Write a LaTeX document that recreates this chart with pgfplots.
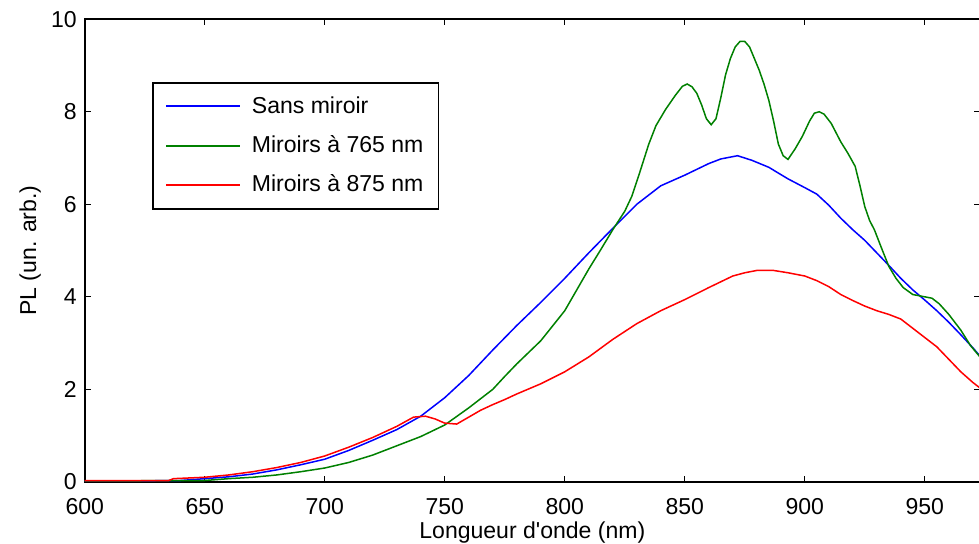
\documentclass[border=0pt]{standalone}
\usepackage{pgfplots}
\pgfplotsset{compat=1.18}
\usepackage{fontspec}
\setmainfont{Liberation Sans}
\definecolor{mblue}{rgb}{0,0,1}
\definecolor{mgreen}{rgb}{0,0.5,0}
\definecolor{mred}{rgb}{1,0,0}
\begin{document}
\fontsize{11.5}{13.8}\selectfont
\begin{tikzpicture}
\begin{axis}[
  width=447pt, height=231pt, scale only axis,
  xmin=600, xmax=973, ymin=0, ymax=10,
  xtick={600,650,...,950}, ytick={0,2,...,10},
  tick align=inside, major tick length=3pt,
  axis line style={line width=0.9pt},
  every tick/.style={black, line width=0.6pt},
  /pgf/number format/assume math mode=true,
  /pgf/number format/1000 sep={},
  tick label style={font=\fontsize{11.5}{13}\selectfont},
  xticklabel style={yshift=-4pt},
  xlabel={Longueur d\textquotesingle onde (nm)},
  ylabel={PL (un. arb.)},
  label style={font=\fontsize{11.5}{13}\selectfont},
  every axis x label/.style={at={(axis description cs:0.5,0)}, yshift=-25.3pt, anchor=center},
  every axis y label/.style={at={(axis description cs:0,0.5)}, shift={(-27.3pt,0pt)}, rotate=90, anchor=center},
  legend cell align=left,
  legend style={at={(0.0754,0.864)}, anchor=north west, draw=black, line width=0.8pt,
    font=\fontsize{11.5}{13}\selectfont, row sep=6.5pt, inner xsep=6pt, inner ysep=5.2pt,
    nodes={inner sep=1.5pt}},
  legend image code/.code={\draw[line width=1pt, #1] (0pt,0pt) -- (37pt,0pt); \path (41pt,0pt);},
]
\addplot[color=mblue, line width=0.75pt] coordinates {
(600,0.02)(620,0.02)(640,0.03)(645,0.05)(650,0.07)(660,0.11)(670,0.17)(680,0.26)(690,0.37)
(700,0.49)(710,0.68)(720,0.90)(730,1.13)(740,1.42)(750,1.82)(760,2.30)(770,2.85)(780,3.38)
(790,3.88)(800,4.40)(810,4.95)(820,5.48)(830,6.00)(840,6.40)(850,6.63)(860,6.88)(865,6.98)
(872,7.05)(878,6.95)(885,6.80)(893,6.55)(900,6.36)(905,6.22)(910,5.98)(915,5.70)(920,5.45)
(925,5.22)(930,4.95)(935,4.68)(940,4.40)(945,4.15)(950,3.93)(955,3.70)(960,3.45)(965,3.18)
(970,2.90)(973,2.72)};
\addlegendentry{Sans miroir}
\addplot[color=mgreen, line width=0.75pt] coordinates {
(600,0.02)(650,0.03)(660,0.07)(670,0.10)(680,0.15)(690,0.22)(700,0.30)(710,0.42)(720,0.58)
(730,0.78)(740,0.98)(750,1.23)(760,1.60)(770,2.00)(775,2.28)(780,2.55)(790,3.05)(800,3.70)
(805,4.15)(810,4.60)(815,5.02)(820,5.45)(825,5.85)(828,6.18)(831,6.65)(835,7.30)(838,7.70)
(842,8.05)(846,8.35)(849,8.55)(851,8.60)(853,8.54)(855,8.40)(857,8.15)(859,7.85)(861,7.72)
(863,7.85)(865,8.30)(867,8.80)(869,9.15)(871,9.40)(873,9.52)(875,9.52)(877,9.40)(879,9.15)
(881,8.90)(883,8.60)(885,8.25)(887,7.80)(889,7.30)(891,7.05)(893,6.97)(896,7.20)(899,7.47)
(902,7.80)(904,7.97)(906,8.00)(908,7.95)(911,7.75)(915,7.35)(918,7.10)(921,6.82)(923,6.40)
(925,5.95)(927,5.65)(929,5.45)(932,5.05)(935,4.66)(938,4.40)(941,4.20)(945,4.05)(950,4.00)
(953,3.97)(956,3.85)(960,3.62)(965,3.28)(969,2.95)(973,2.70)};
\addlegendentry{Miroirs à 765 nm}
\addplot[color=mred, line width=0.75pt] coordinates {
(600,0.03)(635,0.03)(637,0.07)(650,0.10)(660,0.15)(670,0.22)(680,0.31)(690,0.42)(700,0.56)
(710,0.75)(720,0.96)(730,1.20)(737,1.40)(742,1.42)(746,1.36)(750,1.27)(755,1.25)(760,1.40)
(765,1.55)(770,1.67)(775,1.78)(780,1.90)(790,2.12)(800,2.38)(810,2.70)(820,3.08)(830,3.42)
(840,3.70)(850,3.94)(860,4.20)(870,4.45)(875,4.52)(880,4.57)(887,4.57)(893,4.52)(900,4.45)
(905,4.35)(910,4.22)(915,4.05)(920,3.92)(925,3.80)(930,3.70)(935,3.62)(940,3.52)(945,3.32)
(950,3.12)(955,2.92)(960,2.65)(965,2.38)(970,2.15)(973,2.03)};
\addlegendentry{Miroirs à 875 nm}
\end{axis}
\pgfresetboundingbox
\path[use as bounding box] ([xshift=-42.3pt,yshift=-31pt]current axis.south west) rectangle ([xshift=-0.5pt,yshift=9.6pt]current axis.north east);
\end{tikzpicture}
\end{document}
